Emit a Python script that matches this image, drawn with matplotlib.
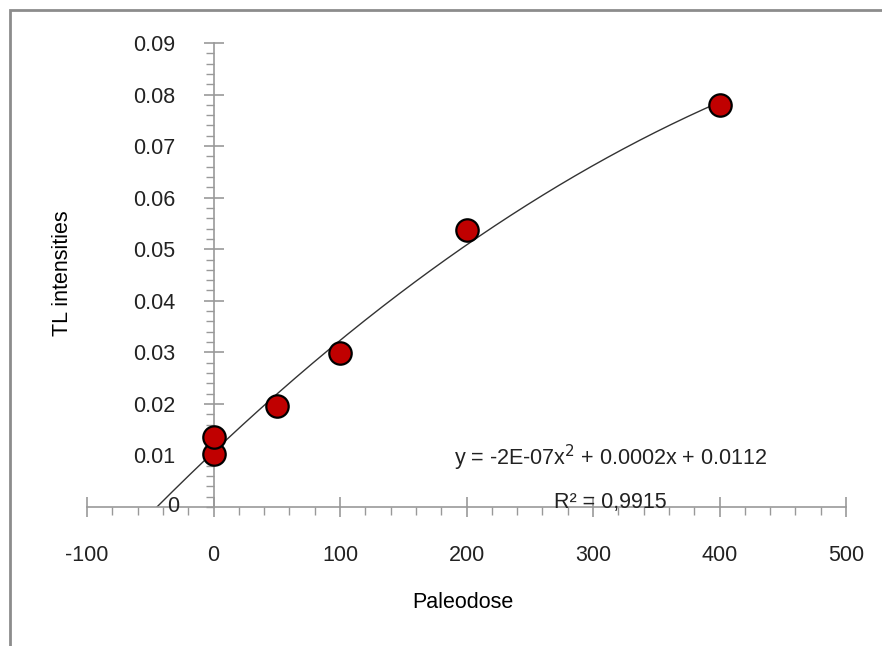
import numpy as np
import matplotlib
matplotlib.use("Agg")
import matplotlib.pyplot as plt
from matplotlib.patches import Rectangle
from matplotlib.ticker import FixedLocator

plt.rcParams['font.family'] = ['Liberation Sans', 'DejaVu Sans']

# Paleodose vs TL intensity measurements
paleodose = [0, 0, 50, 100, 200, 400]
tl_intensity = [0.0103, 0.0135, 0.0196, 0.0298, 0.0537, 0.0780]

x_ticks = [-100, 0, 100, 200, 300, 400, 500]
y_ticks = [0.01, 0.02, 0.03, 0.04, 0.05, 0.06, 0.07, 0.08, 0.09]

equation_text = "y = -2E-07x$^{2}$ + 0.0002x + 0.0112"
r2_text = "R² = 0,9915"

FS = 15.5

fig = plt.figure(figsize=(8.82, 6.46), dpi=100)
ax = fig.add_axes([87 / 882, (646 - 507) / 646, (846 - 87) / 882, (507 - 43) / 646])

# Chart border
fig.patches.append(Rectangle((10 / 882, -0.1), 1.2, (636 / 646) + 0.1,
                             transform=fig.transFigure, fill=False,
                             edgecolor='#8c8c8c', linewidth=2, clip_on=False))

# Second-order polynomial trendline
coef = np.polyfit(paleodose, tl_intensity, 2)
xs = np.linspace(-60, 400, 400)
ax.plot(xs, np.polyval(coef, xs), color='#333333', linewidth=1.0, zorder=2)

ax.scatter(paleodose, tl_intensity, s=260, color='#C00000', edgecolor='black',
           linewidth=1.6, zorder=3)

ax.set_xlim(-100, 500)
ax.set_ylim(0, 0.09)

# Axes cross at the origin
ax.spines['left'].set_position(('data', 0))
ax.spines['bottom'].set_position(('data', 0))
ax.spines['right'].set_visible(False)
ax.spines['top'].set_visible(False)
for s in ('left', 'bottom'):
    ax.spines[s].set_color('#999999')
    ax.spines[s].set_linewidth(1.2)

# Five minor divisions per major interval on both axes
x_minor = np.arange(-100, 501, 20)
y_minor = np.round(np.arange(0, 0.0901, 0.002), 4)
ax.xaxis.set_major_locator(FixedLocator(x_ticks))
ax.xaxis.set_minor_locator(FixedLocator(x_minor))
ax.yaxis.set_major_locator(FixedLocator(y_ticks))
ax.yaxis.set_minor_locator(FixedLocator(y_minor))
ax.tick_params(axis='both', which='major', direction='inout', length=14.4,
               width=1.2, color='#999999', labelsize=FS, labelcolor='#222222')
ax.tick_params(axis='both', which='minor', direction='out', length=5.5,
               width=1.0, color='#999999')
ax.tick_params(axis='x', which='major', pad=20)
ax.tick_params(axis='y', which='major', pad=20)
ax.set_xticklabels([str(v) for v in x_ticks])
ax.set_yticklabels([f"{v:.2f}" for v in y_ticks])

# Zero label of the y axis
ax.text(-32, 0, "0", ha='center', va='center', fontsize=FS, color='#222222')

# Trendline equation and fit quality
ax.text(314, 0.0095, equation_text, ha='center', va='center', fontsize=FS,
        color='#222222')
ax.text(314, 0.0008, r2_text, ha='center', va='center', fontsize=FS,
        color='#222222')

fig.text(62 / 882, 1 - 273 / 646, "TL intensities", rotation=90, ha='center',
         va='center', fontsize=15.5, color='black')
fig.text(463 / 882, 1 - 603 / 646, "Paleodose", ha='center', va='center',
         fontsize=15.5, color='black')

fig.savefig("out.png", dpi=100)
